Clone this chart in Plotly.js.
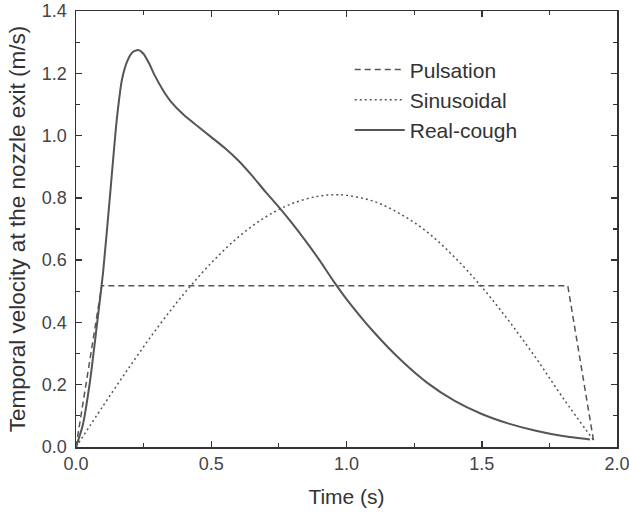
<!DOCTYPE html>
<html>
<head>
<meta charset="utf-8">
<script src="https://cdn.plot.ly/plotly-3.0.1.min.js"></script>
<style>html,body{margin:0;padding:0;background:#fff;}#chart{width:629px;height:513px;}</style>
</head>
<body>
<div id="chart"></div>
<script>
// Pulsation (trapezoid)
var pulseT = [0.0, 0.095, 1.818, 1.913];
var pulseV = [0.0, 0.518, 0.518, 0.022];

// Sinusoidal
var sinT = [0.0, 0.1, 0.2, 0.3, 0.4, 0.5, 0.6, 0.7, 0.8, 0.9, 0.96, 1.0, 1.1, 1.2, 1.3, 1.4, 1.5, 1.6, 1.7, 1.8, 1.913];
var sinV = [0.0, 0.132, 0.26, 0.382, 0.493, 0.591, 0.674, 0.738, 0.782, 0.806, 0.81, 0.808, 0.789, 0.748, 0.689, 0.609, 0.514, 0.405, 0.286, 0.158, 0.022];

// Real-cough
var coughT = [0.0, 0.025, 0.05, 0.075, 0.1, 0.125, 0.15, 0.17, 0.19, 0.21, 0.23, 0.25, 0.27, 0.29, 0.32, 0.35, 0.4, 0.45, 0.5, 0.55, 0.6, 0.65, 0.7, 0.75, 0.8, 0.85, 0.9, 0.95, 1.0, 1.1, 1.2, 1.3, 1.4, 1.5, 1.6, 1.7, 1.8, 1.9];
var coughV = [0.0, 0.07, 0.2, 0.375, 0.56, 0.8, 1.045, 1.18, 1.24, 1.268, 1.275, 1.262, 1.232, 1.195, 1.148, 1.11, 1.065, 1.03, 0.995, 0.96, 0.92, 0.872, 0.82, 0.77, 0.717, 0.66, 0.6, 0.535, 0.475, 0.37, 0.28, 0.205, 0.148, 0.106, 0.075, 0.052, 0.035, 0.024];

var lineColor = '#555555';
var FONT = 'Liberation Sans, Arial, sans-serif';
var traces = [
  {x: pulseT, y: pulseV, name: 'Pulsation', mode: 'lines',
   line: {color: lineColor, width: 1.5, dash: '6px,4px'}},
  {x: sinT, y: sinV, name: 'Sinusoidal', mode: 'lines',
   line: {color: lineColor, width: 1.5, dash: '2px,3px', shape: 'spline'}},
  {x: coughT, y: coughV, name: 'Real-cough', mode: 'lines',
   line: {color: lineColor, width: 2, shape: 'spline', smoothing: 0.6}}
];

var axisCommon = {
  showline: true, linecolor: '#333', linewidth: 1.5, mirror: 'ticks',
  ticks: 'inside', ticklen: 6, tickwidth: 1.5, tickcolor: '#333',
  showgrid: false, zeroline: false, ticklabeloverflow: 'allow',
  tickfont: {family: FONT, size: 18, color: '#444'}
};

var layout = {
  width: 629, height: 513,
  margin: {l: 76, r: 12, t: 11, b: 66},
  paper_bgcolor: '#fff', plot_bgcolor: '#fff',
  showlegend: true,
  legend: {x: 0.506, y: 0.912, xanchor: 'left', yanchor: 'top', itemwidth: 50,
    font: {family: FONT, size: 21, color: '#333'},
    bgcolor: 'rgba(0,0,0,0)'},
  xaxis: Object.assign({}, axisCommon, {
    range: [0, 2.0], dtick: 0.5, tick0: 0, tickformat: '.1f',
    minor: {dtick: 0.25, ticks: 'inside', ticklen: 4, tickcolor: '#333', tickwidth: 1.2},
    title: {text: 'Time (s)', standoff: 16,
      font: {family: FONT, size: 21, color: '#333'}}
  }),
  yaxis: Object.assign({}, axisCommon, {
    range: [0, 1.4], dtick: 0.2, tick0: 0, tickformat: '.1f',
    ticklabelstandoff: 4,
    minor: {dtick: 0.1, ticks: 'inside', ticklen: 4, tickcolor: '#333', tickwidth: 1.2},
    title: {text: 'Temporal velocity at the nozzle exit (m/s)', standoff: 10,
      font: {family: FONT, size: 22.5, color: '#333'}}
  })
};

Plotly.newPlot('chart', traces, layout, {displayModeBar: false, staticPlot: true});
</script>
</body>
</html>
